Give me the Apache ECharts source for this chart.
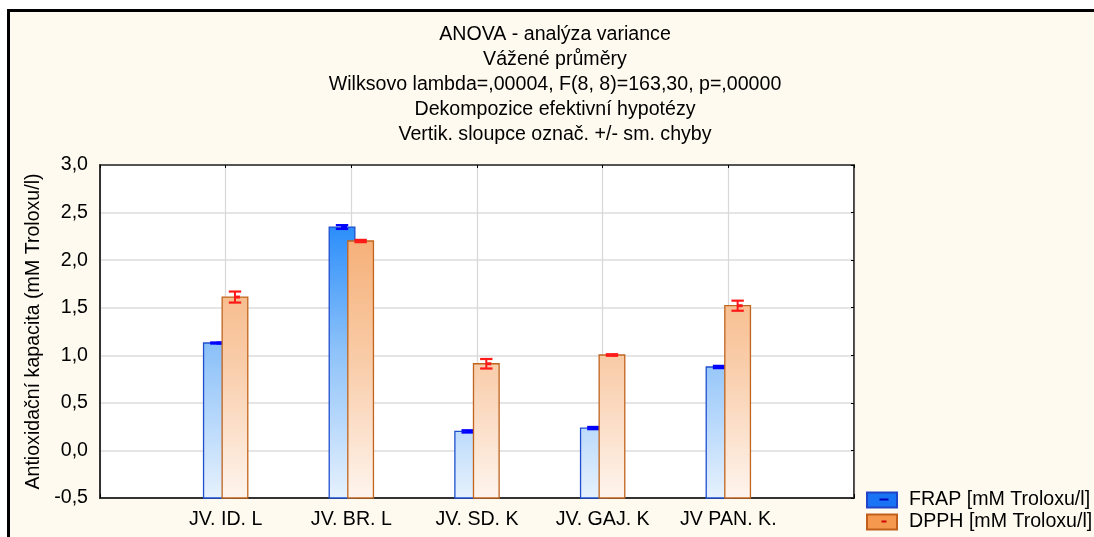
<!DOCTYPE html>
<html>
<head>
<meta charset="utf-8">
<script src="https://cdn.jsdelivr.net/npm/echarts@6/dist/echarts.min.js"></script>
<style>
html,body{margin:0;padding:0;background:#fff;overflow:hidden;}
#wrap{position:relative;width:1094px;height:537px;background:#fff;overflow:hidden;}
#frame{position:absolute;left:7px;top:9px;width:1100px;height:540px;border-top:3px solid #000;border-left:3px solid #000;background:#fffaef;}
#chart{position:absolute;left:0;top:0;width:1094px;height:537px;}
</style>
</head>
<body>
<div id="wrap"><div id="frame"></div><div id="chart"></div></div>
<script>
const categories = ['JV. ID. L', 'JV. BR. L', 'JV. SD. K', 'JV. GAJ. K', 'JV PAN. K.'];
const frapValues = [1.129, 2.348, 0.200, 0.235, 0.877];
const frapErrors = [0.006, 0.020, 0.012, 0.012, 0.012];
const dpphValues = [1.612, 2.201, 0.911, 1.003, 1.521];
const dpphErrors = [0.058, 0.012, 0.050, 0.008, 0.053];
const seriesNames = ['FRAP [mM Troloxu/l]', 'DPPH [mM Troloxu/l]'];
const titleLines = [
  'ANOVA - analýza variance',
  'Vážené průměry',
  'Wilksovo lambda=,00004, F(8, 8)=163,30, p=,00000',
  'Dekompozice efektivní hypotézy',
  'Vertik. sloupce označ. +/- sm. chyby'
];
const yAxisName = 'Antioxidační kapacita (mM Troloxu/l)';

const FONT = '"Liberation Sans", Arial, sans-serif';
const FS = 19.6;
const Y_MIN = -0.5, Y_MAX = 3.0;
const BAR_W = 0.204, OFFSET = 0.074;

function makeRender(offset, stops, border, errColor) {
  return function (params, api) {
    const idx = api.value(0), val = api.value(1), err = api.value(2);
    const cx = api.coord([idx + offset, val])[0];
    const top = api.coord([idx, val])[1];
    const base = api.coord([idx, Y_MIN])[1];
    const gTop = api.coord([idx, Y_MAX])[1];
    const w = api.size([BAR_W, 0])[0];
    const yHi = api.coord([idx, val + err])[1];
    const yLo = api.coord([idx, val - err])[1];
    const cap = 6.2;
    const grad = new echarts.graphic.LinearGradient(0, gTop, 0, base, stops, true);
    return {
      type: 'group',
      children: [
        { type: 'rect', shape: { x: cx - w / 2, y: top, width: w, height: base - top },
          style: { fill: grad, stroke: border, lineWidth: 1.3 } },
        { type: 'line', shape: { x1: cx, y1: yHi, x2: cx, y2: yLo }, style: { stroke: errColor, lineWidth: 2 } },
        { type: 'line', shape: { x1: cx - cap, y1: yHi, x2: cx + cap, y2: yHi }, style: { stroke: errColor, lineWidth: 2.2 } },
        { type: 'line', shape: { x1: cx - cap, y1: yLo, x2: cx + cap, y2: yLo }, style: { stroke: errColor, lineWidth: 2.2 } },
        { type: 'line', shape: { x1: cx, y1: top, x2: cx + 5, y2: top }, style: { stroke: errColor, lineWidth: 3 } }
      ]
    };
  };
}

const chart = echarts.init(document.getElementById('chart'), null, { renderer: 'canvas' });

const xLabelFmt = v => (v >= 1 && v <= categories.length) ? categories[v - 1] : '';
const yLabelFmt = v => v.toFixed(1).replace('.', ',');

const option = {
  backgroundColor: 'transparent',
  animation: false,
  textStyle: { fontFamily: FONT },
  title: {
    text: titleLines.join('\n'),
    left: 555,
    textAlign: 'center',
    top: 22,
    padding: 0,
    textStyle: { fontFamily: FONT, fontSize: FS, fontWeight: 'normal', color: '#000', lineHeight: 25 }
  },
  legend: {
    orient: 'vertical',
    left: 866,
    top: 490,
    icon: 'rect',
    itemWidth: 30,
    itemHeight: 15,
    itemGap: 2,
    padding: 0,
    textStyle: { fontFamily: FONT, fontSize: FS, color: '#000', lineHeight: 15, padding: [0, 0, 0, 7] },
    data: seriesNames
  },
  grid: {
    left: 100, right: 240, top: 165, bottom: 39,
    show: true, backgroundColor: '#fff', borderColor: '#333', borderWidth: 1.5
  },
  xAxis: [{
    type: 'value', min: 0, max: 6, interval: 1,
    axisLine: { show: true, onZero: false, lineStyle: { color: '#333', width: 2 } },
    axisTick: { show: true, inside: true, length: 4, lineStyle: { color: '#000' } },
    axisLabel: { formatter: xLabelFmt, fontFamily: FONT, fontSize: FS, color: '#000', margin: 12 },
    splitLine: { show: true, lineStyle: { color: '#d8d8d8', width: 1.2 } }
  }, {
    type: 'value', min: 0, max: 6, interval: 1, position: 'top',
    axisLine: { show: true, onZero: false, lineStyle: { color: '#333', width: 1.5 } },
    axisTick: { show: true, inside: true, length: 3, lineStyle: { color: '#000' } },
    axisLabel: { show: false }, splitLine: { show: false }
  }],
  yAxis: [{
    type: 'value', min: Y_MIN, max: Y_MAX, interval: 0.5,
    name: yAxisName, nameLocation: 'middle', nameGap: 56,
    nameTextStyle: { fontFamily: FONT, fontSize: FS, color: '#000' },
    axisLine: { show: true, onZero: false, lineStyle: { color: '#333', width: 2 } },
    axisTick: { show: false },
    axisLabel: { formatter: yLabelFmt, fontFamily: FONT, fontSize: FS, color: '#000', margin: 12 },
    splitLine: { show: true, lineStyle: { color: '#dcdcdc', width: 1.6 } }
  }, {
    type: 'value', min: Y_MIN, max: Y_MAX, interval: 0.5, position: 'right',
    axisLine: { show: true, onZero: false, lineStyle: { color: '#333', width: 1.5 } },
    axisTick: { show: true, inside: true, length: 3, lineStyle: { color: '#000' } },
    axisLabel: { show: false }, splitLine: { show: false }
  }],
  series: [{
    name: seriesNames[0],
    type: 'custom',
    xAxisIndex: 0, yAxisIndex: 0,
    itemStyle: { color: '#1a73f2', borderColor: '#2145c8', borderWidth: 1.5 },
    renderItem: makeRender(-OFFSET,
      [{ offset: 0, color: '#1670ee' }, { offset: 0.2, color: '#2f90fa' }, { offset: 0.55, color: '#8cc1f9' }, { offset: 1, color: '#e6f1fd' }],
      '#1f4fd0', '#0000ff'),
    encode: { x: 0, y: 1 },
    data: frapValues.map((v, i) => [i + 1, v, frapErrors[i]])
  }, {
    name: seriesNames[1],
    type: 'custom',
    xAxisIndex: 0, yAxisIndex: 0,
    itemStyle: { color: '#f5994f', borderColor: '#c0601a', borderWidth: 1.5 },
    renderItem: makeRender(OFFSET,
      [{ offset: 0, color: '#f2a060' }, { offset: 0.25, color: '#f6b27c' }, { offset: 0.6, color: '#f9cdaa' }, { offset: 1, color: '#fef4ed' }],
      '#c0641e', '#ff1a1a'),
    encode: { x: 0, y: 1 },
    data: dpphValues.map((v, i) => [i + 1, v, dpphErrors[i]])
  }],
  graphic: [
    { type: 'line', left: 877, top: 497, shape: { x1: 0, y1: 0, x2: 9, y2: 0 }, style: { stroke: '#0000c0', lineWidth: 2 }, z: 100 },
    { type: 'line', left: 879, top: 519, shape: { x1: 0, y1: 0, x2: 5, y2: 0 }, style: { stroke: '#d00000', lineWidth: 2 }, z: 100 }
  ]
};
chart.setOption(option);
</script>
</body>
</html>
